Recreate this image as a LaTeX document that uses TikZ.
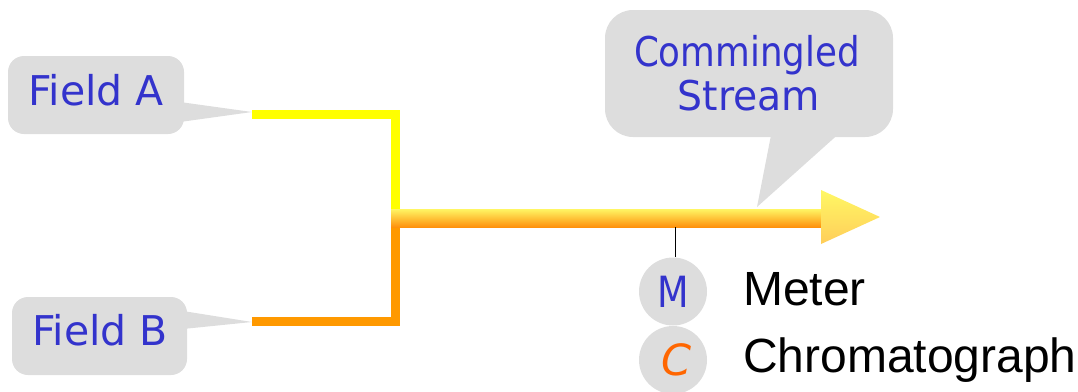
\documentclass[tikz,border=0pt]{standalone}
\usepackage{fontspec}
\usepackage{graphicx}
\setmainfont{Liberation Sans}
\newfontfamily\comic{DejaVu Sans}
\definecolor{callgray}{RGB}{221,221,221}
\definecolor{txtblue}{RGB}{51,51,204}
\definecolor{pipeyellow}{RGB}{255,255,0}
\definecolor{pipeorange}{RGB}{255,153,0}
\definecolor{shafttop}{RGB}{255,246,100}
\definecolor{shaftbot}{RGB}{255,145,12}
\definecolor{headtop}{RGB}{255,248,100}
\definecolor{headbot}{RGB}{255,205,90}
\definecolor{corange}{RGB}{255,102,0}
\tikzset{
  callout/.style={fill=callgray, rounded corners=16pt},
  calltail/.style={fill=callgray},
  calltext/.style={font=\comic\fontsize{41}{46}\selectfont, text=txtblue, inner sep=0pt, anchor=base},
  pipe/.style={line width=9pt, line cap=butt, line join=miter},
  instr/.style={circle, fill=callgray, minimum size=68pt, inner sep=0pt, font=\comic\fontsize{43}{46}\selectfont},
  legend/.style={font=\fontsize{48}{56}\selectfont, inner sep=0pt, anchor=base west},
}
\begin{document}
\begin{tikzpicture}[x=1pt,y=-1pt]
\useasboundingbox (0,0) rectangle (1078,391);
% callout Field A
\fill[callout] (8,56) rectangle (184,134);
\fill[calltail] (180,102) -- (252,112) -- (180,122) -- cycle;
\node[calltext] (fa) at (96,105) {Field A};
% callout Field B
\fill[callout] (12,297) rectangle (187,375);
\fill[calltail] (183,311) -- (252,322) -- (183,329) -- cycle;
\node[calltext] (fb) at (100,345) {Field B};
% callout Commingled Stream
\fill[callout, rounded corners=28pt] (605,10) rectangle (893,137);
\fill[calltail] (772,130) -- (757,207) -- (843,130) -- cycle;
\node[calltext] (cs1) at (747,66) {\scalebox{0.87}[1]{Commingled}};
\node[calltext] (cs2) at (749,110) {\scalebox{0.96}[1]{Stream}};
% pipes
\coordinate (ina) at (252,114);
\coordinate (inb) at (252,321.5);
\coordinate (ja) at (395.5,209);
\coordinate (jb) at (395.5,227);
\draw[pipe, pipeyellow] (ina) -| (ja);
\draw[pipe, pipeorange] (inb) -| (jb);
% thick arrow
\shade[top color=shafttop, bottom color=shaftbot] (391,209) rectangle (822,227);
\shade[top color=headtop, bottom color=headbot] (821,190) -- (880,217) -- (821,244) -- cycle;
% instruments
\coordinate (tap) at (675.5,227);
\node[instr, text=txtblue] (m) at (673,291.5) {\scalebox{0.85}[1]{M}};
\node[instr, text=corange] (c) at (673,360) {\itshape\,C};
\draw[black, line width=1pt] (tap) -- (tap |- m.north);
\node[legend] (lm) at (743,305) {Meter};
\node[legend] (lc) at (743,372) {Chromatograph};
\end{tikzpicture}
\end{document}
